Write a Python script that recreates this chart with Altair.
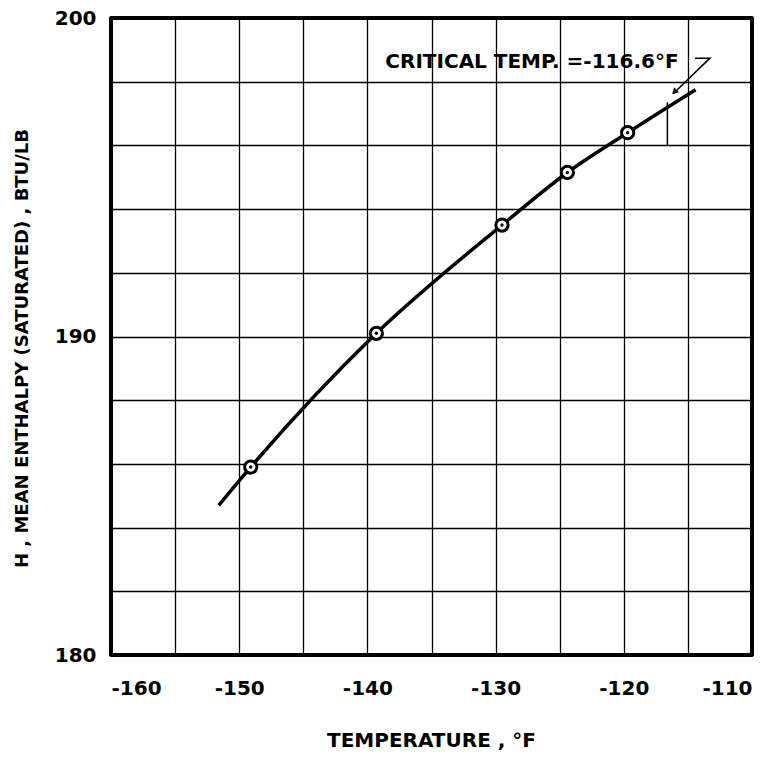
import altair as alt
import pandas as pd

# Measured data points (circles)
temp_pts = [-149.1, -139.3, -129.5, -124.4, -119.7]
enth_pts = [185.9, 190.1, 193.5, 195.15, 196.4]

# Faired curve through the points, with its two ends
curve_temp = [-151.6, -149.1, -139.3, -129.5, -124.4, -119.7, -114.4]
curve_enth = [184.7, 185.9, 190.1, 193.5, 195.15, 196.4, 197.75]

# Critical temperature annotation
crit_temp = -116.6
crit_line_enth = [196.0, 197.35]
crit_label = "CRITICAL TEMP. =-116.6°F"
label_temp = -138.6
label_enth = 198.62
leader_temp = [-114.45, -113.28, -116.15]
leader_enth = [198.74, 198.74, 197.62]
arrow_temp = [-116.0]
arrow_enth = [197.7]

x_grid = [-160, -155, -150, -145, -140, -135, -130, -125, -120, -115, -110]
y_grid = [180, 182, 184, 186, 188, 190, 192, 194, 196, 198, 200]

FONT = "DejaVu Sans"

pts = pd.DataFrame({"t": temp_pts, "h": enth_pts})
curve = pd.DataFrame({"t": curve_temp, "h": curve_enth, "o": list(range(len(curve_temp)))})
crit = pd.DataFrame({"t": [crit_temp, crit_temp], "h": crit_line_enth})
leader = pd.DataFrame({"t": leader_temp, "h": leader_enth, "o": [0, 1, 2]})
arrow = pd.DataFrame({"t": arrow_temp, "h": arrow_enth})
lab = pd.DataFrame({"t": [label_temp], "h": [label_enth], "s": [crit_label]})
frame = pd.DataFrame({"t": [x_grid[0]], "t2": [x_grid[-1]], "h": [y_grid[0]], "h2": [y_grid[-1]]})

xs = alt.Scale(domain=[-160, -110], nice=False, zero=False)
ys = alt.Scale(domain=[180, 200], nice=False, zero=False)

xaxis = alt.Axis(
    values=x_grid, grid=True, gridColor="black", gridWidth=1.3, gridOpacity=1,
    ticks=False, domain=False,
    labelExpr="datum.value % 10 == 0 ? '' + datum.value : ''",
    labelFont=FONT, labelFontSize=20, labelFontWeight="bold", labelColor="black",
    labelPadding=33, labelBaseline="middle",
    title="TEMPERATURE , °F", titleFont=FONT, titleFontSize=20, titleFontWeight="bold",
    titleColor="black", titleX=320, titleY=85, titleAnchor="middle",
    titleAlign="center", titleBaseline="middle",
)
yaxis = alt.Axis(
    values=y_grid, grid=True, gridColor="black", gridWidth=1.3, gridOpacity=1,
    ticks=False, domain=False,
    labelExpr="datum.value % 10 == 0 ? '' + datum.value : ''",
    labelFont=FONT, labelFontSize=20, labelFontWeight="bold", labelColor="black",
    labelPadding=15,
    title="H , MEAN ENTHALPY (SATURATED) , BTU/LB", titleFont=FONT, titleFontSize=18,
    titleFontWeight="bold", titleColor="black", titleX=-89, titleY=330,
    titleAngle=-90, titleAlign="center", titleBaseline="middle",
)

base_curve = alt.Chart(curve).mark_line(color="black", strokeWidth=3.5, interpolate="monotone").encode(
    x=alt.X("t:Q", scale=xs, axis=xaxis),
    y=alt.Y("h:Q", scale=ys, axis=yaxis),
    order="o:Q",
)

frame_rect = alt.Chart(frame).mark_rect(
    filled=False, stroke="black", strokeWidth=4, strokeJoin="round"
).encode(
    x=alt.X("t:Q", scale=xs), x2="t2:Q", y=alt.Y("h:Q", scale=ys), y2="h2:Q"
)

circles = alt.Chart(pts).mark_point(
    shape="circle", size=150, filled=True, fill="white", stroke="black", strokeWidth=3, opacity=1
).encode(x=alt.X("t:Q", scale=xs), y=alt.Y("h:Q", scale=ys))

dots = alt.Chart(pts).mark_point(
    shape="circle", size=12, filled=True, color="black", opacity=1
).encode(x=alt.X("t:Q", scale=xs), y=alt.Y("h:Q", scale=ys))

crit_rule = alt.Chart(crit).mark_line(color="black", strokeWidth=1.5).encode(
    x=alt.X("t:Q", scale=xs), y=alt.Y("h:Q", scale=ys)
)

leader_line = alt.Chart(leader).mark_line(color="black", strokeWidth=1.5).encode(
    x=alt.X("t:Q", scale=xs), y=alt.Y("h:Q", scale=ys), order="o:Q"
)

arrow_head = alt.Chart(arrow).mark_point(
    shape="triangle", size=50, filled=True, color="black", angle=225.7, opacity=1
).encode(x=alt.X("t:Q", scale=xs), y=alt.Y("h:Q", scale=ys))

label = alt.Chart(lab).mark_text(
    font=FONT, fontSize=20, fontWeight="bold", color="black", align="left", baseline="middle"
).encode(x=alt.X("t:Q", scale=xs), y=alt.Y("h:Q", scale=ys), text="s:N")

chart = alt.layer(
    crit_rule, leader_line, base_curve, circles, dots, arrow_head, label, frame_rect
).properties(
    width=641, height=637,
    autosize=alt.AutoSizeParams(type="none"),
    padding={"left": 103, "top": 10, "right": 14, "bottom": 96},
).configure_view(
    stroke=None
).configure(background="white")

chart.save("out.html", embed_options={"renderer": "svg", "actions": False})
